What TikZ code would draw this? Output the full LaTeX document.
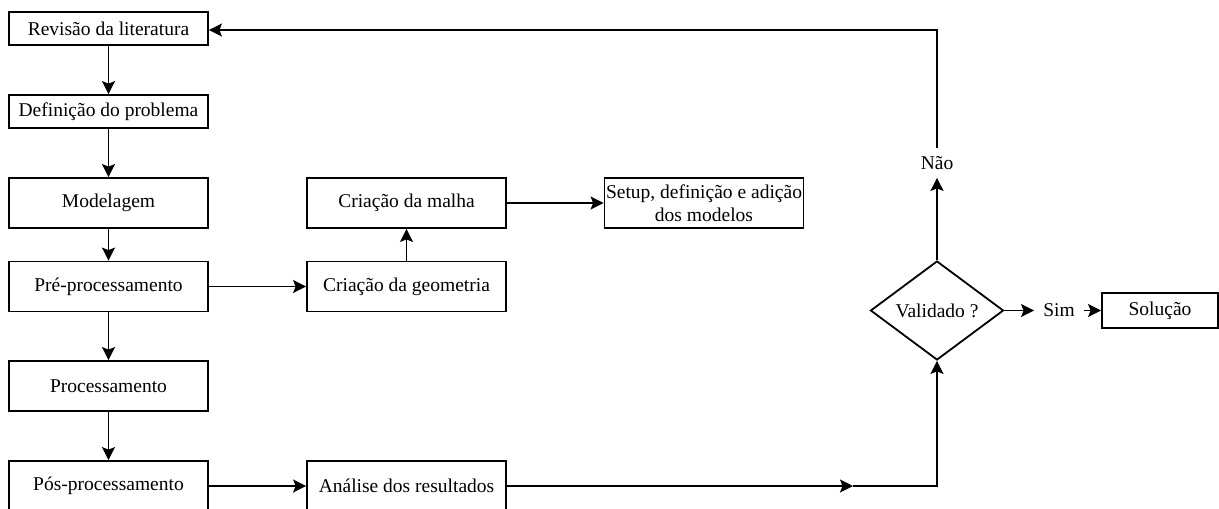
\documentclass[tikz,border=0pt]{standalone}
\usepackage{fontspec}
\setmainfont{Liberation Serif}
\usetikzlibrary{arrows.meta,shapes.geometric}
\tikzset{
  box/.style={draw, line width=1.8pt, minimum width=199pt, minimum height=50pt, inner sep=0pt, font=\fontsize{19.5}{23}\selectfont, align=center},
  sbox/.style={box, minimum height=33pt},
  lbl/.style={inner sep=1pt, font=\fontsize{19.5}{23}\selectfont},
  decision/.style={draw, line width=1.8pt, diamond, minimum width=133pt, minimum height=99pt, inner sep=0pt, font=\fontsize{19.5}{23}\selectfont},
  arr/.style={line width=1.8pt, -{Stealth[length=13pt,width=13pt,inset=2.5pt]}},
  ln/.style={line width=1.8pt}
}
\begin{document}
\begin{tikzpicture}[x=1pt,y=-1pt]
\clip (0,0) rectangle (1219,509);
\fill[white] (0,0) rectangle (1219,509);
\node[sbox] (rev) at (108.5,28.5) {Revisão da literatura};
\node[sbox] (def) at (108.5,111.5) {Definição do problema};
\node[box] (mod) at (108.5,203) {Modelagem};
\node[box] (pre) at (108.5,286.5) {Pré-processamento};
\node[box] (pro) at (108.5,386) {Processamento};
\node[box] (pos) at (108.5,486) {Pós-processamento};
\node[box] (geo) at (406.5,286.5) {Criação da geometria};
\node[box] (mal) at (406.5,203) {Criação da malha};
\node[box] (set) at (704,203) {Setup, definição e adição\\dos modelos};
\node[box] (ana) at (406.5,486) {Análise dos resultados};
\node[decision] (val) at (937,310.5) {Validado ?};
\node[lbl, inner ysep=8pt] (nao) at (937,163) {Não};
\node[lbl, inner xsep=9pt] (sim) at (1059,310.5) {Sim};
\node[box, minimum width=116pt, minimum height=35pt] (sol) at (1160,310.5) {Solução};
\coordinate (m) at (853,486);
\coordinate (top) at (937,30);
\draw[arr] (rev) -- (def);
\draw[arr] (def) -- (mod);
\draw[arr] (mod) -- (pre);
\draw[arr] (pre) -- (pro);
\draw[arr] (pro) -- (pos);
\draw[arr] (pre) -- (geo);
\draw[arr] (geo) -- (mal);
\draw[arr] (mal) -- (set);
\draw[arr] (pos) -- (ana);
\draw[arr] (ana.east |- m) -- (m);
\draw[arr] (m) -| (val.south);
\draw[arr] (val.north) -- (nao.south);
\draw[arr] (nao.north) |- (rev.east |- top);
\draw[arr] (val.east) -- (sim.west);
\draw[arr] (sim.east) -- (sol.west);
\end{tikzpicture}
\end{document}
